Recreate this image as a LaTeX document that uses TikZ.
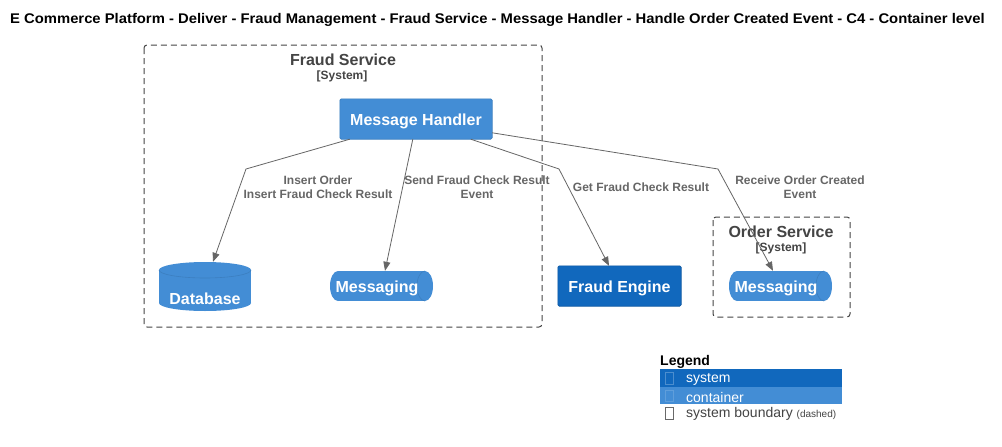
\documentclass[tikz,border=0pt]{standalone}
\usepackage{fontspec}
\setmainfont{Liberation Sans}
\usetikzlibrary{arrows.meta,calc}
\definecolor{csys}{HTML}{1168BD}
\definecolor{ccont}{HTML}{438DD5}
\definecolor{ccontb}{HTML}{3C7FC0}
\definecolor{cedge}{HTML}{666666}
\definecolor{cbound}{HTML}{444444}
\tikzset{
  lbl/.style={font=\bfseries\fontsize{12}{14}\selectfont, text=cedge, align=center, inner sep=0pt},
  rel/.style={draw=cedge, line width=0.8pt, -{Triangle[length=9pt,width=7pt]}},
  boundary/.style={draw=cbound, line width=1pt, dash pattern=on 6pt off 4pt, rounded corners=3pt},
  btitle/.style={font=\bfseries\fontsize{16}{18}\selectfont, text=cbound, inner sep=0pt},
  bsub/.style={font=\bfseries\fontsize{12}{14}\selectfont, text=cbound, inner sep=0pt},
  elname/.style={font=\bfseries\fontsize{16}{18}\selectfont, text=white, inner sep=0pt},
  containerbox/.style={fill=ccont, draw=ccontb, line width=0.6pt, rounded corners=1.5pt, text=white, font=\bfseries\fontsize{16}{18}\selectfont},
  systembox/.style={fill=csys, draw=csys!85!black, line width=0.6pt, rounded corners=1.5pt, text=white, font=\bfseries\fontsize{16}{18}\selectfont},
  hidden/.style={inner sep=0pt, draw=none},
  legtext/.style={font=\fontsize{14}{16}\selectfont, inner sep=0pt, anchor=west}
}
\begin{document}
\begin{tikzpicture}[x=1pt,y=-1pt]
\useasboundingbox[fill=white] (0,0) rectangle (1002,447);

% title
\node[anchor=west, inner sep=0pt, font=\bfseries\fontsize{14}{16}\selectfont] (title) at (10,20) {\scalebox{1.058}[1]{E Commerce Platform - Deliver - Fraud Management - Fraud Service - Message Handler - Handle Order Created Event - C4 - Container level}};

% boundaries
\draw[boundary] (144,45) rectangle (542,327);
\node[btitle] (fst) at (343,59.5) {Fraud Service};
\node[bsub] (fss) at (342,76) {[System]};
\draw[boundary] (713,217) rectangle (850,317);
\node[btitle] (ost) at (781,231.5) {Order Service};
\node[bsub] (oss) at (781,248) {[System]};

% Message Handler
\node[hidden, minimum width=152pt, minimum height=40pt] (mh) at (416,119) {};
\draw[containerbox] (mh.south west) rectangle (mh.north east);
\node[elname] (mht) at (416,121) {Message Handler};

% Database cylinder
\fill[ccont] (159,270) rectangle (251,303);
\fill[ccont] (205,303) ellipse [x radius=46, y radius=8];
\fill[ccont] (205,270) ellipse [x radius=46, y radius=8];
\draw[ccontb, line width=0.6pt] (251,270) arc[start angle=0, end angle=180, x radius=46, y radius=8];
\node[hidden, minimum width=92pt, minimum height=49pt] (db) at (205,286.5) {};
\node[elname] (dbt) at (205,298.5) {Database};

% Messaging queue (Fraud Service)
\fill[ccont] (338,271) rectangle (425,301);
\fill[ccont] (338,286) ellipse [x radius=8, y radius=15];
\fill[ccont] (425,286) ellipse [x radius=8, y radius=15];
\draw[ccontb, line width=0.6pt] (425,301) arc[start angle=90, end angle=270, x radius=8, y radius=15];
\node[hidden, minimum width=103pt, minimum height=30pt] (q1) at (381.5,286) {};
\node[elname] (q1t) at (377,288.5) {Messaging};

% Fraud Engine
\node[hidden, minimum width=123pt, minimum height=40pt] (fe) at (619.5,286) {};
\draw[systembox] (fe.south west) rectangle (fe.north east);
\node[elname] (fet) at (619.5,288) {Fraud Engine};

% Messaging queue (Order Service)
\fill[ccont] (737,271) rectangle (824,301);
\fill[ccont] (737,286) ellipse [x radius=8, y radius=15];
\fill[ccont] (824,286) ellipse [x radius=8, y radius=15];
\draw[ccontb, line width=0.6pt] (824,301) arc[start angle=90, end angle=270, x radius=8, y radius=15];
\node[hidden, minimum width=103pt, minimum height=30pt] (q2) at (780.5,286) {};
\node[elname] (q2t) at (776,288.5) {Messaging};

% connectors
\coordinate (k1) at (246,169);
\coordinate (k3) at (559,169);
\coordinate (k4) at (718,169);
\draw[rel] ($(mh.south west)+(10,0)$) -- (k1) -- ($(db.north)+(8,0)$);
\draw[rel] ($(mh.south west)+(73,0)$) -- ($(q1.north)+(3.5,0)$);
\draw[rel] ($(mh.south west)+(131,0)$) -- (k3) -- ($(fe.north)+(-10.5,0)$);
\draw[rel] ($(mh.north east)+(0,34)$) -- (k4) -- ($(q2.north)+(-7.5,0)$);

% labels
\node[lbl] (l1) at (318,187) {Insert Order\\Insert Fraud Check Result};
\node[lbl] (l2) at (477,187) {Send Fraud Check Result\\Event};
\node[lbl] (l3) at (641,187) {Get Fraud Check Result};
\node[lbl] (l4) at (800,187) {Receive Order Created\\Event};

% legend
\node[anchor=west, inner sep=0pt, font=\bfseries\fontsize{14}{16}\selectfont] (legt) at (660,362) {Legend};
\fill[csys] (660,369) rectangle (842,386.5);
\fill[ccont] (660,386.5) rectangle (842,404);
\draw[csys!75!white, line width=0.5pt] (665.5,372.5) rectangle (673.5,384);
\draw[ccont!85!white, line width=0.5pt] (665.5,390) rectangle (673.5,401.5);
\draw[cbound!80!white, line width=0.5pt] (665.5,407.5) rectangle (673.5,419);
\node[legtext, text=white] (lg1) at (686,379) {system};
\node[legtext, text=white] (lg2) at (686,397) {container};
\node[legtext, text=cbound] (lg3) at (686,414) {system boundary \fontsize{10}{11}\selectfont(dashed)};
\end{tikzpicture}
\end{document}
